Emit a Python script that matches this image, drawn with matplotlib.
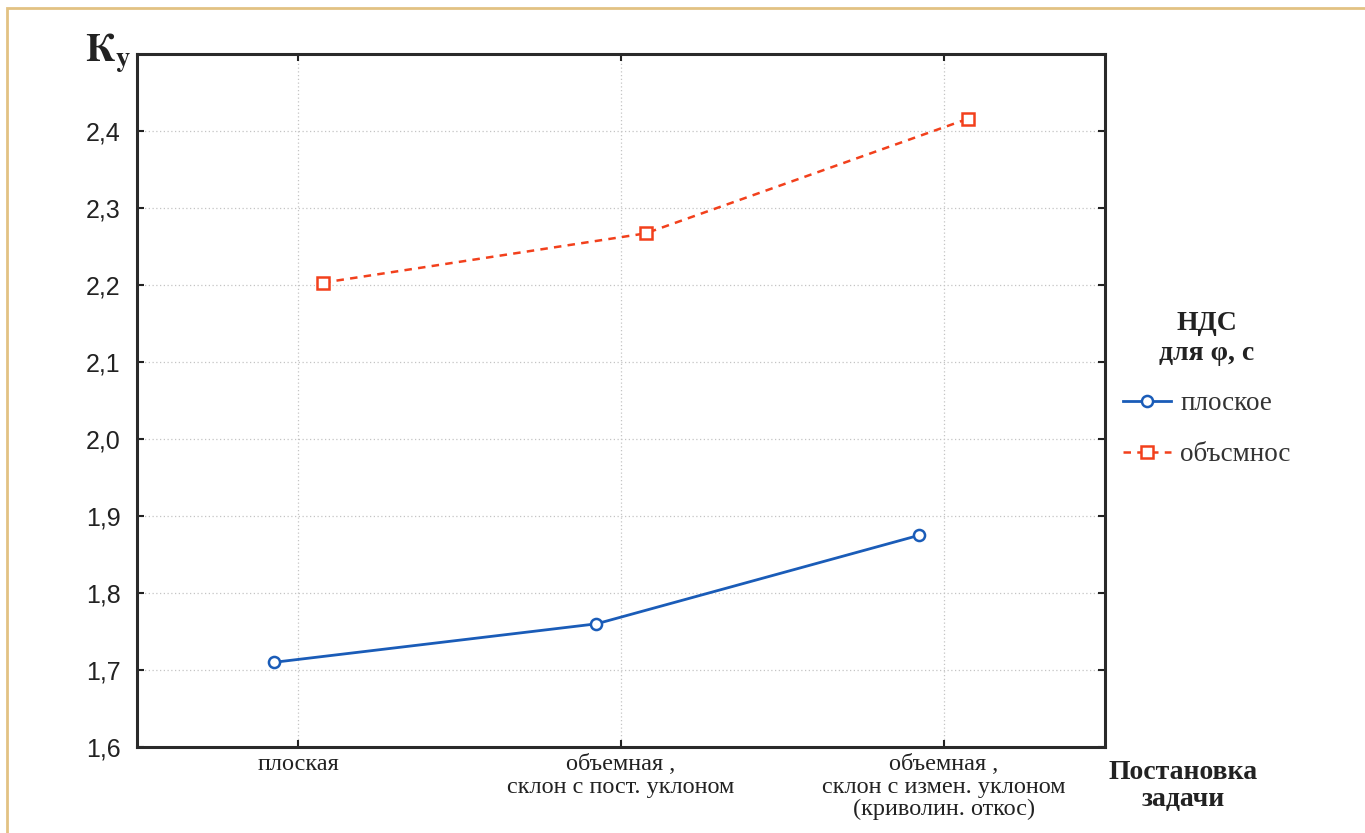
import matplotlib.pyplot as plt
import numpy as np
from matplotlib.patches import Rectangle
from matplotlib.ticker import FuncFormatter

# постановка задачи (категории по оси X)
categories = ['плоская',
              'объемная ,\nсклон с пост. уклоном',
              'объемная ,\nсклон с измен. уклоном\n(криволин. откос)']
# коэффициент устойчивости Ky
ky_flat = [1.710, 1.760, 1.875]
ky_volume = [2.203, 2.267, 2.416]
series_names = ['плоское', 'объсмнос']
y_ticks = [1.6, 1.7, 1.8, 1.9, 2.0, 2.1, 2.2, 2.3, 2.4]


def main():
    plt.rcParams['font.family'] = ['Liberation Serif', 'DejaVu Serif']
    fig = plt.figure(figsize=(13.65, 8.33), dpi=100)
    ax = fig.add_axes([0.1004, 0.1032, 0.7091, 0.832])

    x = np.arange(len(categories)) + 0.5
    shift = 0.076
    blue = '#1a5cb8'
    red = '#f2401c'
    ax.plot(x - shift, ky_flat, color=blue, lw=2.0, marker='o', ms=8,
            mfc='white', mec=blue, mew=1.8, label=series_names[0])
    ax.plot(x + shift, ky_volume, color=red, lw=1.8, ls=(0, (3, 2.5)),
            marker='s', ms=9, mfc='white', mec=red, mew=1.8,
            label=series_names[1])

    ax.set_xlim(0, 3)
    ax.set_ylim(1.6, 2.5)
    ax.set_xticks(x)
    ax.set_xticklabels(categories, fontsize=17.5, color='#222222',
                       linespacing=1.1)
    ax.set_yticks(y_ticks)
    ax.yaxis.set_major_formatter(
        FuncFormatter(lambda v, p: f'{v:.1f}'.replace('.', ',')))
    for lab in ax.get_yticklabels():
        lab.set_family(['Liberation Sans', 'DejaVu Sans'])
        lab.set_fontsize(18)
        lab.set_color('#222222')

    ax.tick_params(direction='in', length=5, width=1.5, color='#222222',
                   top=True, right=True)
    ax.tick_params(axis='y', pad=12)
    ax.tick_params(axis='x', pad=5)
    for s in ax.spines.values():
        s.set_linewidth(2.2)
        s.set_color('#2a2a2a')
    ax.grid(True, ls=(0, (1, 2)), color='#c4c4c4', lw=0.9)
    ax.set_axisbelow(True)

    fig.text(0.062, 0.926, r'$\mathbf{К}_{\mathbf{у}}$', fontsize=28,
             color='#222222', math_fontfamily='stix')
    fig.text(0.867, 0.088, 'Постановка\nзадачи', ha='center', va='top',
             fontsize=20, fontweight='bold', color='#222222',
             linespacing=1.12)

    leg = fig.legend(loc='upper left', bbox_to_anchor=(0.805, 0.656),
                     frameon=False, fontsize=19.5, handlelength=1.75,
                     handletextpad=0.35, labelspacing=0.95,
                     title='НДС\nдля φ, с',
                     title_fontproperties={'size': 20, 'weight': 'bold',
                                           'family': 'Liberation Serif'})
    leg.get_title().set_linespacing(1.25)
    leg.get_title().set_multialignment('center')
    leg.get_title().set_color('#222222')
    for t in leg.get_texts():
        t.set_color('#333333')

    # рамка страницы
    fig.add_artist(Rectangle((7 / 1365, -0.1), 1.2, 1.1 - 8 / 833,
                             transform=fig.transFigure, fill=False,
                             ec='#e2c283', lw=2.0))

    fig.savefig('out.png', dpi=100)


if __name__ == "__main__":
    main()
